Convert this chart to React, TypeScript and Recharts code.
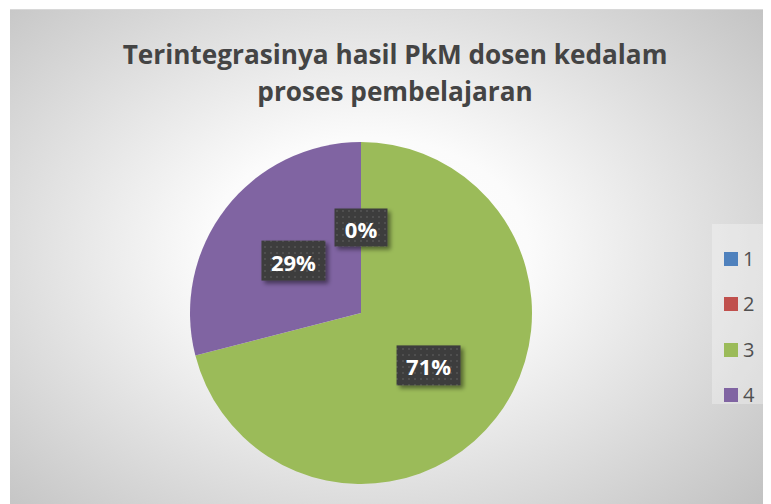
import React from 'react';
import { PieChart, Pie, Cell, Legend } from 'recharts';

const categories = ['1', '2', '3', '4'];
const values = [0, 0, 71, 29];
const colors = ['#4F81BD', '#C0504D', '#9BBB59', '#8064A2'];
const title = ['Terintegrasinya hasil PkM dosen kedalam', 'proses pembelajaran'];

const data = categories.map((name, i) => ({ name, value: values[i] }));

const RADIAN = Math.PI / 180;

// kotak label gelap dengan pola titik
const renderLabel = (props: any) => {
  const { cx, cy, midAngle, outerRadius, percent, index, value } = props;
  // dua irisan 0% saling menumpuk, cukup gambar satu
  if (value === 0 && index !== 1) return null;
  const r = outerRadius * 0.5;
  const x = cx + r * Math.cos(-midAngle * RADIAN);
  const y = cy + r * Math.sin(-midAngle * RADIAN);
  const text = `${Math.round(percent * 100)}%`;
  const w = text.length > 2 ? 64 : 53;
  const h = text.length > 2 ? 40 : 38;
  return (
    <g>
      <rect x={x - w / 2} y={y - h / 2} width={w} height={h} fill="url(#dotPattern)" filter="url(#labelShadow)" />
      <text
        x={x}
        y={y + 1}
        fill="#fff"
        textAnchor="middle"
        dominantBaseline="central"
        style={{ fontFamily: 'Open Sans', fontWeight: 700, fontSize: 22 }}
      >
        {text}
      </text>
    </g>
  );
};

const renderLegend = (props: any) => {
  const { payload } = props;
  return (
    <div
      style={{
        width: 55,
        height: 180,
        background: 'rgba(255,255,255,0.3)',
        paddingTop: 12,
        boxSizing: 'border-box',
      }}
    >
      {payload.map((entry: any) => (
        <div key={entry.value} style={{ display: 'flex', alignItems: 'center', height: 45.5 }}>
          <span style={{ width: 14, height: 14, background: entry.color, marginLeft: 12, marginRight: 5 }} />
          <span style={{ fontFamily: 'Open Sans', fontSize: 20, color: '#505050', lineHeight: '14px' }}>
            {entry.value}
          </span>
        </div>
      ))}
    </div>
  );
};

const App = () => {
  return (
    <div
      style={{
        position: 'relative',
        marginLeft: 2,
        marginTop: 1,
        width: 762,
        height: 500,
        borderTop: '1px solid #d8d8d8',
        background: 'radial-gradient(ellipse 70% 75% at 47% 48%, #ffffff 0%, #fbfbfb 30%, #c2c2c2 100%)',
        overflow: 'hidden',
      }}
    >
      <div
        style={{
          position: 'absolute',
          top: 26,
          left: 0,
          width: 770,
          textAlign: 'center',
          fontFamily: 'Open Sans',
          fontWeight: 700,
          fontSize: 26.2,
          lineHeight: '37px',
          color: '#444444',
        }}
      >
        {title.map((t) => (
          <div key={t}>{t}</div>
        ))}
      </div>
      <PieChart width={762} height={499} style={{ position: 'absolute', top: 0, left: 0 }}>
        <defs>
          <pattern id="dotPattern" width={6} height={6} patternUnits="userSpaceOnUse">
            <rect width={6} height={6} fill="#3d3d3d" />
            <rect x={2} y={2} width={2} height={2} fill="#505050" />
          </pattern>
          <filter id="labelShadow" x="-20%" y="-20%" width="150%" height="150%">
            <feDropShadow dx={3} dy={3} stdDeviation={2} floodColor="#000" floodOpacity={0.45} />
          </filter>
        </defs>
        <Pie
          data={data}
          dataKey="value"
          nameKey="name"
          cx={346}
          cy={298}
          outerRadius={171}
          startAngle={90}
          endAngle={-270}
          stroke="none"
          label={renderLabel}
          labelLine={false}
          isAnimationActive={false}
        >
          {data.map((d, i) => (
            <Cell key={d.name} fill={colors[i]} />
          ))}
        </Pie>
        <Legend
          content={renderLegend}
          wrapperStyle={{ position: 'absolute', left: 702, top: 214, width: 55, height: 180 }}
        />
      </PieChart>
    </div>
  );
};

export default App;
